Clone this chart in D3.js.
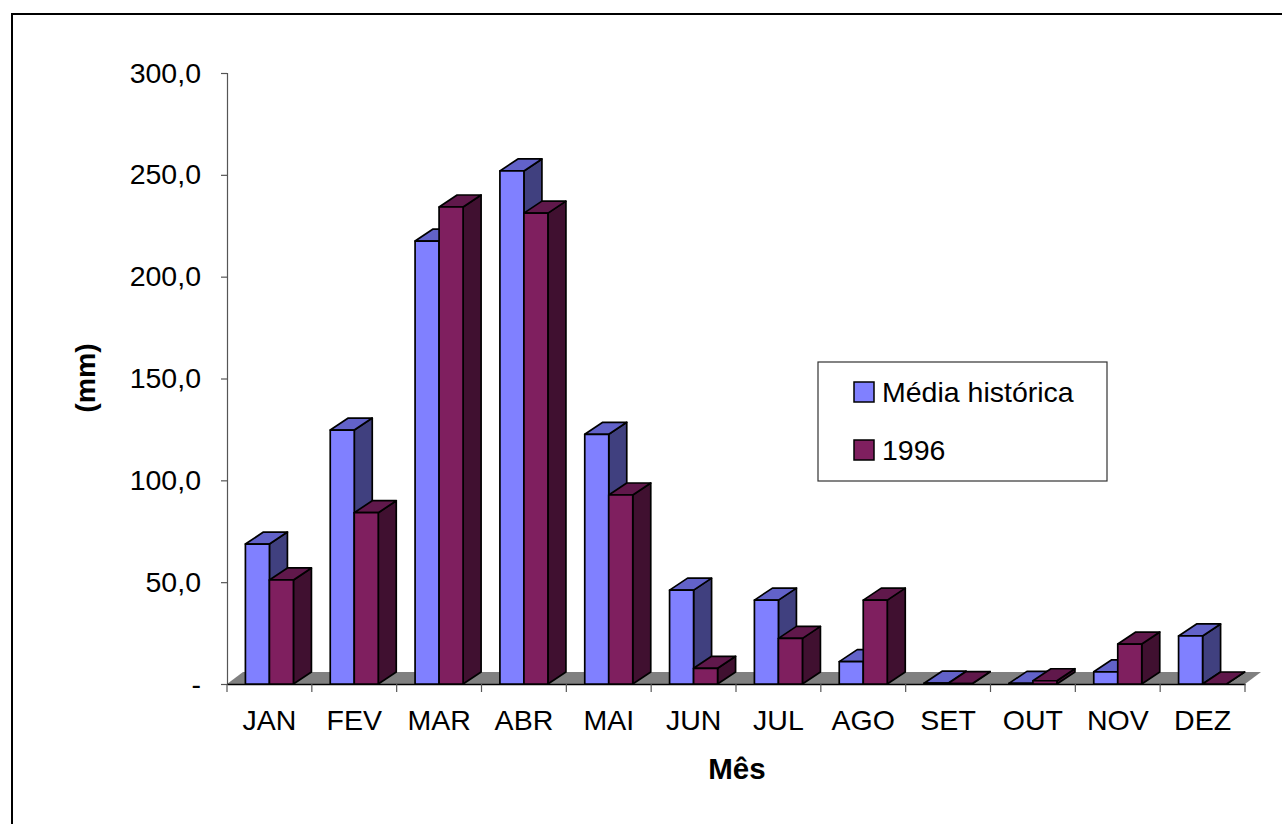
<!DOCTYPE html>
<html>
<head>
<meta charset="utf-8">
<script src="https://cdn.jsdelivr.net/npm/d3@7/dist/d3.min.js"></script>
<style>
  html, body { margin: 0; padding: 0; background: #fff; }
  svg { display: block; }
  text { font-family: "Liberation Sans", Arial, sans-serif; fill: #000; }
</style>
</head>
<body>
<svg id="chart" width="1282" height="824"></svg>
<script>
// Monthly rainfall (mm): historical mean vs. 1996
const months = ["JAN", "FEV", "MAR", "ABR", "MAI", "JUN", "JUL", "AGO", "SET", "OUT", "NOV", "DEZ"];
const seriesNames = ["Média histórica", "1996"];
const mediaHistorica = [68.7, 124.7, 217.5, 251.9, 122.6, 46.1, 41.2, 11.0, 0.4, 0.3, 6.0, 23.6];
const ano1996 = [51.1, 84.1, 234.2, 231.2, 92.8, 7.7, 22.4, 41.2, 0.2, 1.6, 19.6, 0.0];
const yTicks = [0, 50, 100, 150, 200, 250, 300];

const palette = {
  "Média histórica": { front: "#8080ff", top: "#6262c9", side: "#40407f" },
  "1996": { front: "#7f1f5f", top: "#60184b", side: "#401030" }
};

const FONT = "28.5px";
const svg = d3.select("#chart");

// outer frame
svg.append("rect")
  .attr("x", 12).attr("y", 14)
  .attr("width", 1300).attr("height", 900)
  .attr("fill", "none").attr("stroke", "#000").attr("stroke-width", 2);

const x0 = d3.scaleBand().domain(months).range([227, 1245]).paddingInner(0).paddingOuter(0);
const x1 = d3.scaleBand().domain(seriesNames).range([0, x0.bandwidth()]).paddingInner(0).paddingOuter(0.767);
const y = d3.scaleLinear().domain([0, 300]).range([684, 73]);

const depthX = 18, depthY = -12;

// floor
const floorY = y(0);
svg.append("path")
  .attr("d", d3.line()([[x0.range()[0], floorY], [x0.range()[1], floorY],
                        [x0.range()[1] + 16, floorY + depthY], [x0.range()[0] + 16, floorY + depthY]]))
  .attr("fill", "#808080").attr("stroke", "none");

// y axis
const yAxis = d3.axisLeft(y).tickValues(yTicks).tickSize(6).tickPadding(20)
  .tickFormat(d => d === 0 ? "-" : d3.format(".1f")(d).replace(".", ","));
const gy = svg.append("g").attr("transform", "translate(227,0)").call(yAxis);
gy.select(".domain").attr("stroke", "#555").attr("stroke-width", 1.2);
gy.selectAll(".tick line").attr("stroke", "#555").attr("stroke-width", 1.2);
gy.selectAll(".tick text").style("font-size", FONT).style("font-family", "Liberation Sans, Arial, sans-serif").attr("fill", "#000");

// x axis line and ticks
const xAxis = d3.axisBottom(x0).tickSize(0).tickPadding(26);
const gx = svg.append("g").attr("transform", `translate(0,${floorY})`).call(xAxis);
gx.select(".domain").attr("stroke", "#000").attr("stroke-width", 1.5);
gx.selectAll(".tick text").style("font-size", FONT).style("font-family", "Liberation Sans, Arial, sans-serif").attr("fill", "#000");
const boundaries = months.map(m => x0(m)).concat([x0.range()[1]]);
gx.selectAll("line.bound").data(boundaries).join("line")
  .attr("class", "bound")
  .attr("x1", d => d).attr("x2", d => d)
  .attr("y1", 0).attr("y2", 8)
  .attr("stroke", "#555").attr("stroke-width", 1.2);

// 3D columns
const rows = months.map((m, i) => ({ month: m, values: [mediaHistorica[i], ano1996[i]] }));
const bars = svg.append("g");
rows.forEach(r => {
  seriesNames.forEach((s, j) => {
    const v = r.values[j];
    const xl = x0(r.month) + x1(s);
    const xr = xl + x1.bandwidth();
    const yt = y(v), yb = y(0);
    const c = palette[s];
    const g = bars.append("g").attr("stroke", "#000").attr("stroke-width", 1.7).attr("stroke-linejoin", "round");
    // side face
    g.append("path").attr("fill", c.side)
      .attr("d", d3.line()([[xr, yb], [xr, yt], [xr + depthX, yt + depthY], [xr + depthX, yb + depthY]]) + "Z");
    // top face
    g.append("path").attr("fill", c.top)
      .attr("d", d3.line()([[xl, yt], [xr, yt], [xr + depthX, yt + depthY], [xl + depthX, yt + depthY]]) + "Z");
    // front face
    g.append("rect").attr("fill", c.front)
      .attr("x", xl).attr("y", yt).attr("width", xr - xl).attr("height", Math.max(0, yb - yt));
  });
});

// axis titles
svg.append("text")
  .attr("x", x0.range()[0] + (x0.range()[1] - x0.range()[0]) / 2 + 1).attr("y", 779)
  .attr("text-anchor", "middle").style("font-size", "29.5px").style("font-weight", "bold")
  .text("Mês");
svg.append("text")
  .attr("transform", "translate(95,378) rotate(-90)")
  .attr("text-anchor", "middle").style("font-size", FONT).style("font-weight", "bold")
  .text("(mm)");

// legend
const lg = svg.append("g").attr("transform", "translate(818,362)");
lg.append("rect").attr("x", 0).attr("y", 0).attr("width", 289).attr("height", 119)
  .attr("fill", "#fff").attr("stroke", "#333").attr("stroke-width", 1.2);
seriesNames.forEach((s, i) => {
  const row = lg.append("g").attr("transform", `translate(0,${30 + i * 58})`);
  row.append("rect").attr("x", 36).attr("y", -10).attr("width", 20).attr("height", 20)
    .attr("fill", palette[s].front).attr("stroke", "#000").attr("stroke-width", 1.5);
  row.append("text").attr("x", 64).attr("y", 10).style("font-size", FONT).text(s);
});
</script>
</body>
</html>
